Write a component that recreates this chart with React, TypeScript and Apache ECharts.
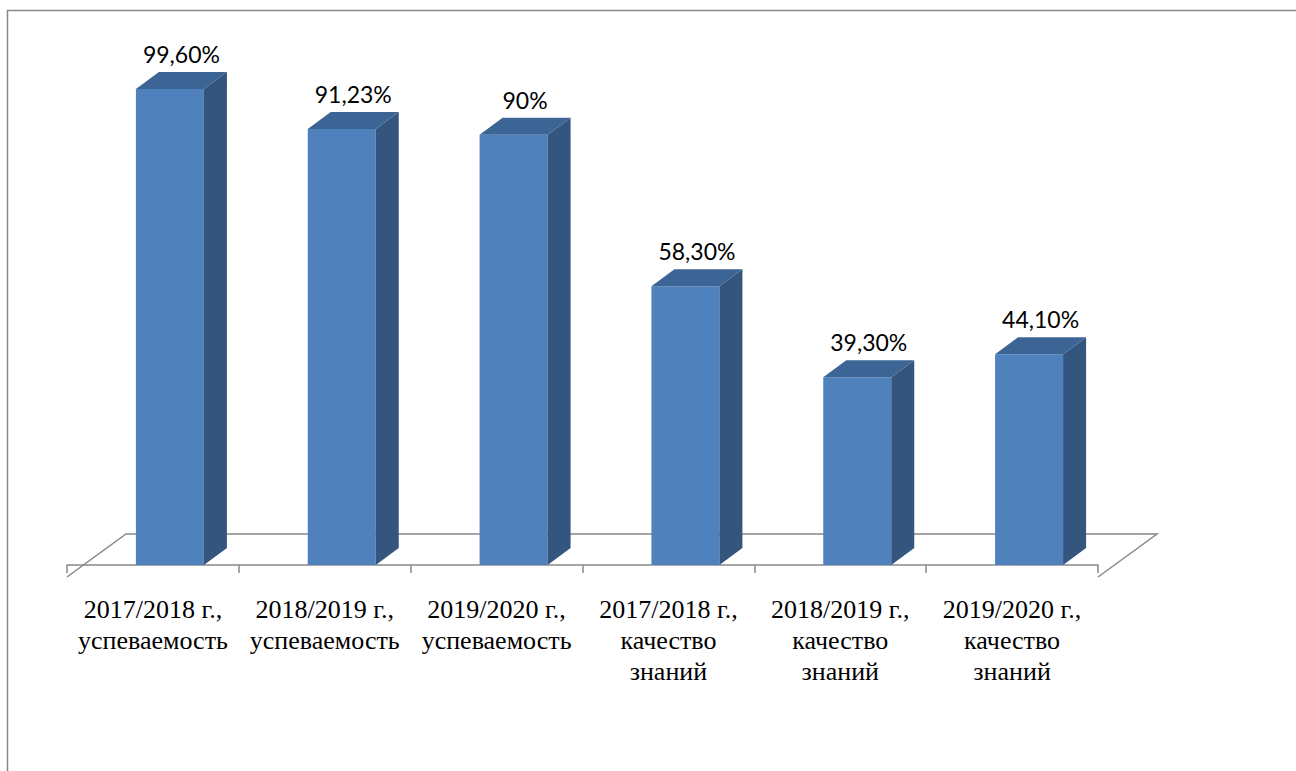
import React, { useEffect, useRef } from "react";
import * as echarts from "echarts";

const categories = [
  "2017/2018 г.,\nуспеваемость",
  "2018/2019 г.,\nуспеваемость",
  "2019/2020 г.,\nуспеваемость",
  "2017/2018 г.,\nкачество\nзнаний",
  "2018/2019 г.,\nкачество\nзнаний",
  "2019/2020 г.,\nкачество\nзнаний",
];
const values = [99.6, 91.23, 90, 58.3, 39.3, 44.1];
const valueLabels = ["99,60%", "91,23%", "90%", "58,30%", "39,30%", "44,10%"];

const FRONT = "#4F81BD";
const SIDE = "#33557E";
const TOP = "#3C6596";
const GREY = "#888888";
const SERIF = "Liberation Serif";

const BAR_W = 68;
const BAR_SHIFT = -17;
const DX = 23;
const DY = -17;
const LABEL_GAP = 18;
const FLOOR_DROP = 12;
const FLOOR_DX = 59;
const FLOOR_DY = -43;
const CAT_LINE_H = 31;
const CAT_BASELINE_GAP = 45;

export default function App() {
  const ref = useRef<HTMLDivElement>(null);
  useEffect(() => {
    if (!ref.current) return;
    const chart = echarts.init(ref.current, undefined, { renderer: "svg" });
    const renderBar = (params: any, api: any) => {
      const i = api.value(0);
      const v = api.value(1);
      const top = api.coord([i, v]);
      const base = api.coord([i, 0]);
      const x0 = top[0] + BAR_SHIFT;
      const x1 = x0 + BAR_W;
      const yT = top[1];
      const yB = base[1];
      return {
        type: "group",
        children: [
          { type: "rect", shape: { x: x0, y: yT, width: BAR_W, height: yB - yT }, style: { fill: FRONT } },
          {
            type: "polygon",
            shape: { points: [[x1, yT], [x1 + DX, yT + DY], [x1 + DX, yB + DY], [x1, yB]] },
            style: { fill: SIDE },
          },
          {
            type: "polygon",
            shape: { points: [[x0, yT], [x1, yT], [x1 + DX, yT + DY], [x0 + DX, yT + DY]] },
            style: { fill: TOP },
          },
          {
            type: "text",
            x: x0 + (BAR_W + DX) / 2,
            y: yT + DY - LABEL_GAP,
            style: {
              text: valueLabels[params.dataIndex],
              fill: "#000",
              fontFamily: "Lato",
              fontSize: 23,
              align: "center",
              verticalAlign: "middle",
            },
          },
        ],
      };
    };
    const renderFloor = (_params: any, api: any) => {
      const base = api.coord([0, 0]);
      const bw = api.size([1, 0])[0];
      const left = base[0] - bw / 2;
      const right = left + bw * categories.length;
      const y = base[1] + FLOOR_DROP;
      return {
        type: "polyline",
        shape: {
          points: [
            [left, y],
            [left + FLOOR_DX, y + FLOOR_DY],
            [right + FLOOR_DX, y + FLOOR_DY],
            [right, y],
          ],
        },
        style: { stroke: GREY, lineWidth: 1.5, fill: "none" },
      };
    };
    const renderCatLabel = (params: any, api: any) => {
      const p = api.coord([api.value(0), 0]);
      const lines = categories[params.dataIndex].split("\n");
      return {
        type: "group",
        children: lines.map((line, k) => ({
          type: "text",
          x: p[0],
          y: p[1] + FLOOR_DROP + CAT_BASELINE_GAP + k * CAT_LINE_H,
          style: {
            text: line,
            fill: "#000",
            fontFamily: SERIF,
            fontSize: 26,
            align: "center",
            verticalAlign: "bottom",
          },
        })),
      };
    };
    chart.setOption({
      animation: false,
      backgroundColor: "#fff",
      grid: { left: 67, right: 198, top: 87, bottom: 206, containLabel: false },
      xAxis: {
        type: "category",
        data: categories,
        offset: FLOOR_DROP,
        axisLine: { lineStyle: { color: GREY, width: 1.5 } },
        axisTick: { show: true, length: 8, lineStyle: { color: GREY, width: 1.5 } },
        axisLabel: { show: false },
      },
      yAxis: { type: "value", min: 0, max: 100, show: false },
      graphic: [
        {
          type: "polyline",
          shape: { points: [[7.5, 771], [7.5, 10.5], [1296, 10.5]] },
          style: { stroke: GREY, lineWidth: 1.5, fill: "none" },
        },
      ],
      series: [
        { type: "custom", renderItem: renderFloor, data: [[0, 0]], z: 1, clip: false, silent: true },
        {
          type: "custom",
          renderItem: renderBar,
          data: values.map((v, i) => [i, v]),
          encode: { x: 0, y: 1 },
          z: 2,
          clip: false,
        },
        {
          type: "custom",
          renderItem: renderCatLabel,
          data: categories.map((_c, i) => [i, 0]),
          encode: { x: 0, y: 1 },
          z: 3,
          clip: false,
          silent: true,
        },
      ],
    });
    return () => chart.dispose();
  }, []);
  return <div ref={ref} style={{ position: "fixed", left: 0, top: 0, width: 1296, height: 771 }} />;
}
